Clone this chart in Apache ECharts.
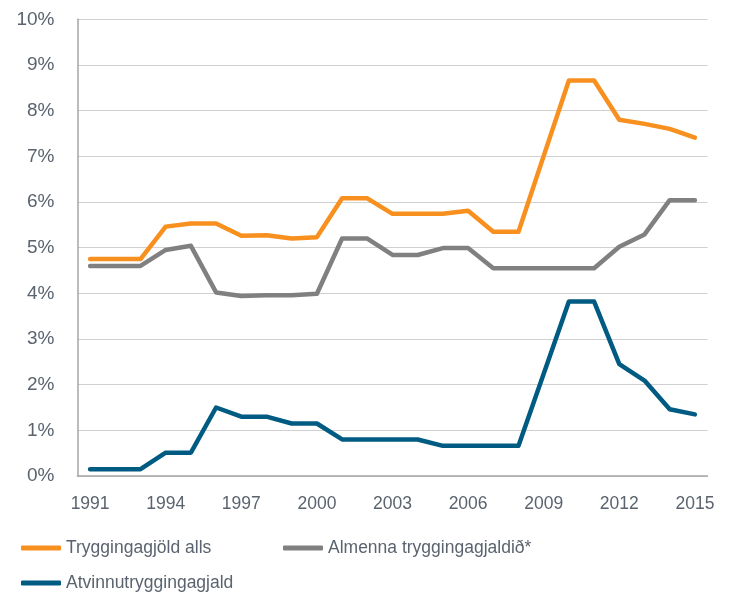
<!DOCTYPE html>
<html>
<head>
<meta charset="utf-8">
<script src="https://cdn.jsdelivr.net/npm/echarts@6/dist/echarts.min.js"></script>
<style>html,body{margin:0;padding:0;background:#fff}#c{width:736px;height:593px}</style>
</head>
<body>
<div id="c"></div>
<script>
var years = ['1991','1992','1993','1994','1995','1996','1997','1998','1999','2000','2001','2002','2003','2004','2005','2006','2007','2008','2009','2010','2011','2012','2013','2014','2015'];
var yTicks = [0, 10, 1];
var seriesNames = ['Tryggingagjöld alls', 'Almenna tryggingagjaldið*', 'Atvinnutryggingagjald'];
var tryggingagjold = [4.75,4.75,4.75,5.46,5.53,5.53,5.26,5.27,5.20,5.23,6.08,6.08,5.74,5.74,5.74,5.81,5.35,5.35,7.01,8.66,8.66,7.80,7.71,7.60,7.41];
var almenna = [4.60,4.60,4.60,4.95,5.04,4.02,3.94,3.96,3.96,3.99,5.20,5.20,4.84,4.84,4.99,4.99,4.55,4.55,4.55,4.55,4.55,5.02,5.29,6.04,6.04];
var atvinnu = [0.15,0.15,0.15,0.51,0.51,1.50,1.30,1.30,1.15,1.15,0.80,0.80,0.80,0.80,0.66,0.66,0.66,0.66,2.24,3.82,3.82,2.45,2.09,1.46,1.35];
var colors = ['#f7901e', '#808080', '#005b82'];

var FONT = '"Liberation Sans", Arial, sans-serif';
var TXT = '#5a636e';
var chart = echarts.init(document.getElementById('c'), null, {renderer: 'canvas'});
function legendAt(name, left, top) {
  return {
    data: [name], left: left, top: top, orient: 'horizontal', padding: 0,
    icon: 'roundRect', itemWidth: 40, itemHeight: 5, itemGap: 0,
    textStyle: {fontFamily: FONT, fontSize: 17.5, color: TXT},
    selectedMode: false
  };
}
var seriesData = [tryggingagjold, almenna, atvinnu];
chart.setOption({
  animation: false,
  color: colors,
  grid: {left: 77.5, right: 28.5, top: 19.3, bottom: 117, containLabel: false},
  legend: [
    legendAt(seriesNames[0], 21, 539),
    legendAt(seriesNames[1], 283, 539),
    legendAt(seriesNames[2], 21, 574)
  ],
  xAxis: {
    type: 'category', data: years, boundaryGap: true,
    axisLine: {show: true, lineStyle: {color: '#a6a6a6', width: 1.5}},
    axisTick: {show: false},
    axisLabel: {interval: 2, fontFamily: FONT, fontSize: 17.5, color: TXT, margin: 19},
    splitLine: {show: false}
  },
  yAxis: {
    type: 'value', min: yTicks[0], max: yTicks[1], interval: yTicks[2],
    axisLine: {show: true, lineStyle: {color: '#a6a6a6', width: 1.5}},
    axisTick: {show: false},
    axisLabel: {formatter: '{value}%', fontFamily: FONT, fontSize: 19, color: TXT, margin: 23},
    splitLine: {show: true, lineStyle: {color: '#d0d0d0', width: 1.2}}
  },
  series: seriesNames.map(function (n, i) {
    return {
      name: n, type: 'line', data: seriesData[i], symbol: 'none',
      lineStyle: {width: 4.5, color: colors[i], cap: 'round', join: 'round'},
      itemStyle: {color: colors[i]}
    };
  })
});
</script>
</body>
</html>
